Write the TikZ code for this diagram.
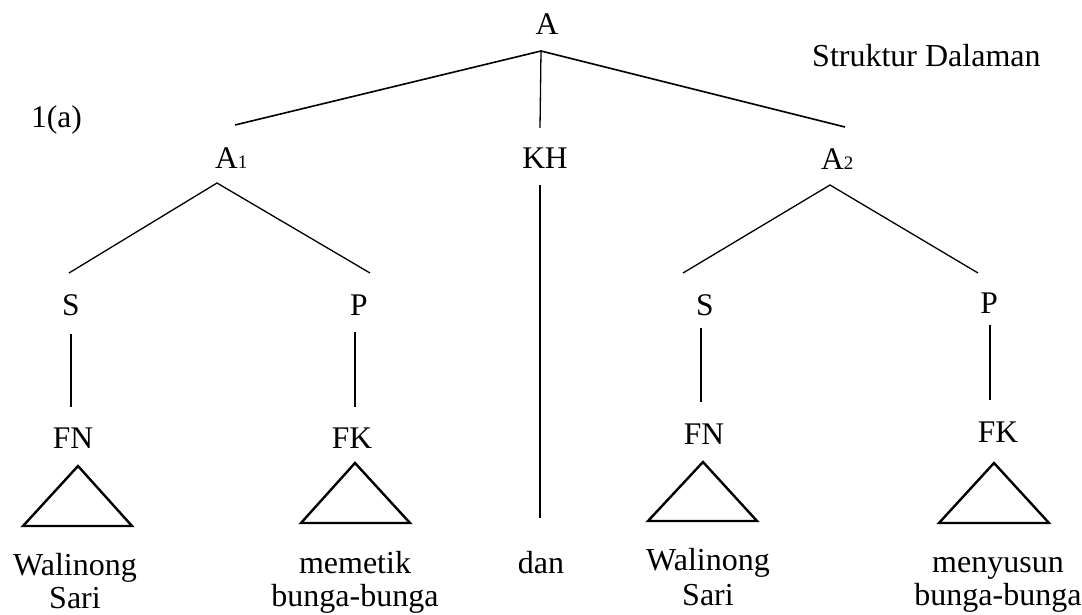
\documentclass[tikz,border=0pt]{standalone}
\usepackage{fontspec}
\setmainfont{Liberation Serif}
\begin{document}
\begin{tikzpicture}[x=1pt,y=-1pt,
  lbl/.style={inner sep=0pt,anchor=base,font=\fontsize{31.5}{36}\selectfont},
  word/.style={inner sep=0pt,anchor=base,font=\fontsize{32}{36}\selectfont},
  branch/.style={line width=1.3pt},
  topbranch/.style={line width=1.6pt},
  tri/.style={line width=2.4pt,line join=miter}]
\useasboundingbox (0,0) rectangle (1082,615);
\newcommand{\subn}[1]{{\fontsize{19}{19}\selectfont #1}}
% labels
\node[lbl] (A) at (547,35) {A};
\node[lbl,anchor=base west,font=\fontsize{32}{36}\selectfont] (title) at (812,67) {Struktur Dalaman};
\node[lbl,anchor=base west] (ex) at (31,128) {1(a)};
\node[lbl,anchor=base west] (A1) at (215,168) {A\subn{1}};
\node[lbl] (KH) at (545,168) {KH};
\node[lbl,anchor=base west] (A2) at (821,169) {A\subn{2}};
\node[lbl] (S1) at (71,315) {S};
\node[lbl] (P1) at (359,315) {P};
\node[lbl] (S2) at (705,315) {S};
\node[lbl] (P2) at (989,313) {P};
\node[lbl] (FN1) at (73,448) {FN};
\node[lbl] (FK1) at (352,448) {FK};
\node[lbl] (FN2) at (704,444) {FN};
\node[lbl] (FK2) at (998,442) {FK};
% words
\node[word] (w1a) at (75,575) {Walinong};
\node[word,text depth=0pt] (w1b) at (75,608) {Sari};
\node[word] (w2a) at (355,573) {memetik};
\node[word] (w2b) at (355,606) {bunga-bunga};
\node[word] (w3) at (541,573) {dan};
\node[word] (w4a) at (708,570) {Walinong};
\node[word,text depth=0pt] (w4b) at (708,605) {Sari};
\node[word] (w5a) at (998,572) {menyusun};
\node[word] (w5b) at (998,605) {bunga-bunga};
% connector end points
\coordinate (Ab) at (541,51);
\coordinate (A1t) at (235,125);
\coordinate (KHt) at (540,128);
\coordinate (A2t) at (845,127);
\coordinate (KHb) at (540,185);
\coordinate (danT) at (540,518);
\coordinate (A1b) at (217,183);
\coordinate (S1t) at (69,273);
\coordinate (P1t) at (370,273);
\coordinate (A2b) at (830,185);
\coordinate (S2t) at (683,273);
\coordinate (P2t) at (978,273);
\coordinate (S1b) at (71,334);
\coordinate (FN1t) at (71,407);
\coordinate (P1b) at (355,332);
\coordinate (FK1t) at (355,407);
\coordinate (S2b) at (701,328);
\coordinate (FN2t) at (701,402);
\coordinate (P2b) at (990,325);
\coordinate (FK2t) at (990,400);
% connectors
\draw[topbranch] (A1t) -- (Ab) -- (A2t);
\draw[branch] (Ab) -- (KHt);
\draw[branch] (KHb) -- (danT);
\draw[branch] (S1t) -- (A1b) -- (P1t);
\draw[branch] (S2t) -- (A2b) -- (P2t);
\draw[branch] (S1b) -- (FN1t);
\draw[branch] (P1b) -- (FK1t);
\draw[branch] (S2b) -- (FN2t);
\draw[branch] (P2b) -- (FK2t);
% triangles
\draw[tri] (78,466) -- (132,526) -- (23,526) -- cycle;
\draw[tri] (355,463) -- (410,523) -- (301,523) -- cycle;
\draw[tri] (703,462) -- (757,521) -- (648,521) -- cycle;
\draw[tri] (994,463) -- (1049,523) -- (939,523) -- cycle;
\end{tikzpicture}
\end{document}
